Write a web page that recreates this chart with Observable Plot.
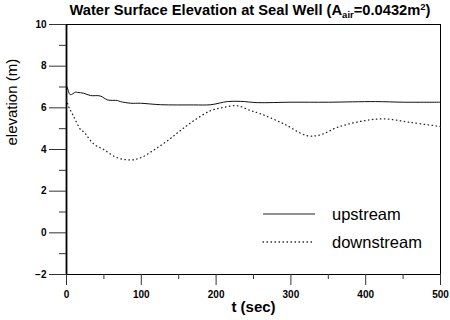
<!DOCTYPE html>
<html>
<head>
<meta charset="utf-8">
<script src="https://cdn.jsdelivr.net/npm/d3@7"></script>
<script src="https://cdn.jsdelivr.net/npm/@observablehq/plot@0.6"></script>
<style>
  body { margin: 0; background: #fff; }
  #wrap { position: relative; width: 450px; height: 320px; font-family: "Liberation Sans", Arial, sans-serif; color: #000; }
  #title { position: absolute; left: 0; width: 500px; top: 2px; text-align: center; font-weight: bold; font-size: 14.7px; white-space: nowrap; }
  #title sub { font-size: 9.5px; vertical-align: -3px; line-height: 0; }
  #title sup { font-size: 9.5px; vertical-align: 5px; line-height: 0; }
  .leg { position: absolute; left: 262px; display: flex; align-items: center; font-size: 16.5px; }
  .leg svg { margin-right: 16px; }
</style>
</head>
<body>
<div id="wrap">
  <div id="title">Water Surface Elevation at Seal Well (A<sub>air</sub>=0.0432m<sup>2</sup>)</div>
</div>
<script>
// ---- data ----
const upT = [0, 1, 5, 12, 15, 23, 32, 45, 55, 68, 72, 86, 99, 126, 170, 193, 215, 233, 255, 300, 350, 413, 450, 500];
const upE = [7.05, 6.98, 6.63, 6.75, 6.74, 6.7, 6.59, 6.57, 6.38, 6.35, 6.3, 6.22, 6.22, 6.15, 6.14, 6.15, 6.3, 6.31, 6.25, 6.27, 6.27, 6.3, 6.27, 6.27];
const downT = [0, 3, 9, 19, 23, 36, 50, 68, 86, 99, 117, 135, 152, 170, 193, 210, 228, 246, 259, 290, 322, 340, 362, 393, 424, 460, 500];
const downE = [6.4, 6.05, 5.63, 4.95, 4.85, 4.28, 3.99, 3.6, 3.5, 3.6, 3.98, 4.42, 4.9, 5.38, 5.87, 6.02, 6.1, 5.87, 5.72, 5.24, 4.66, 4.71, 5.06, 5.35, 5.47, 5.3, 5.1];
const xMajor = [0, 100, 200, 300, 400, 500];
const xMinor = [50, 150, 250, 350, 450];
const yMajor = [-2, 0, 2, 4, 6, 8, 10];
const yMinor = [-1, 1, 3, 5, 7, 9];
const seriesNames = ["upstream", "downstream"];
const xLabel = "t (sec)";
const yLabel = "elevation (m)";

const up = upT.map((t, i) => ({t, e: upE[i]}));
const down = downT.map((t, i) => ({t, e: downE[i]}));

const chart = Plot.plot({
  width: 450,
  height: 320,
  marginLeft: 66,
  marginRight: 10,
  marginTop: 24,
  marginBottom: 46,
  style: { fontFamily: "Liberation Sans, Arial, sans-serif", background: "#fff", color: "#000" },
  x: { domain: [0, 500] },
  y: { domain: [-2, 10] },
  marks: [
    Plot.frame({ stroke: "#000", strokeWidth: 1 }),
    Plot.ruleX([0], { stroke: "#000", strokeWidth: 1.8 }),
    Plot.axisY(yMajor, { tickSize: 17, tickPadding: 3, fontSize: 10, fontWeight: "bold", label: null, stroke: "#333" }),
    Plot.axisY(yMinor, { tickSize: 7, tickFormat: () => "", label: null, stroke: "#333" }),
    Plot.axisX(xMajor, { tickSize: 11, tickPadding: 5, fontSize: 10, fontWeight: "bold", label: null, stroke: "#333" }),
    Plot.axisX(xMinor, { tickSize: 5, tickFormat: () => "", label: null, stroke: "#333" }),
    Plot.text([xLabel], { frameAnchor: "bottom", dy: 33, lineAnchor: "middle", fontSize: 15, fontWeight: "bold", fill: "#000" }),
    Plot.text([yLabel], { frameAnchor: "left", dx: -54, dy: -4, rotate: -90, lineAnchor: "middle", fontSize: 15, fill: "#000" }),
    Plot.line(up, { x: "t", y: "e", stroke: "#111", strokeWidth: 1, curve: "catmull-rom" }),
    Plot.line(down, { x: "t", y: "e", stroke: "#222", strokeWidth: 1.3, strokeDasharray: "0.5,3.5", strokeLinecap: "round", curve: "catmull-rom" })
  ]
});

const wrap = document.getElementById("wrap");
wrap.insertBefore(chart, wrap.firstChild);

// legend overlay
const legY = [214, 242];
seriesNames.forEach((name, i) => {
  const d = document.createElement("div");
  d.className = "leg";
  d.style.top = (legY[i] - 10) + "px";
  d.style.height = "20px";
  const dash = i === 0 ? "" : ' stroke-dasharray="0.5,3.5" stroke-linecap="round" stroke-width="1.3"';
  d.innerHTML = `<svg width="54" height="20"><line x1="1" x2="53" y1="10" y2="10" stroke="#222"${dash}></line></svg><span>${name}</span>`;
  wrap.appendChild(d);
});
</script>
</body>
</html>
